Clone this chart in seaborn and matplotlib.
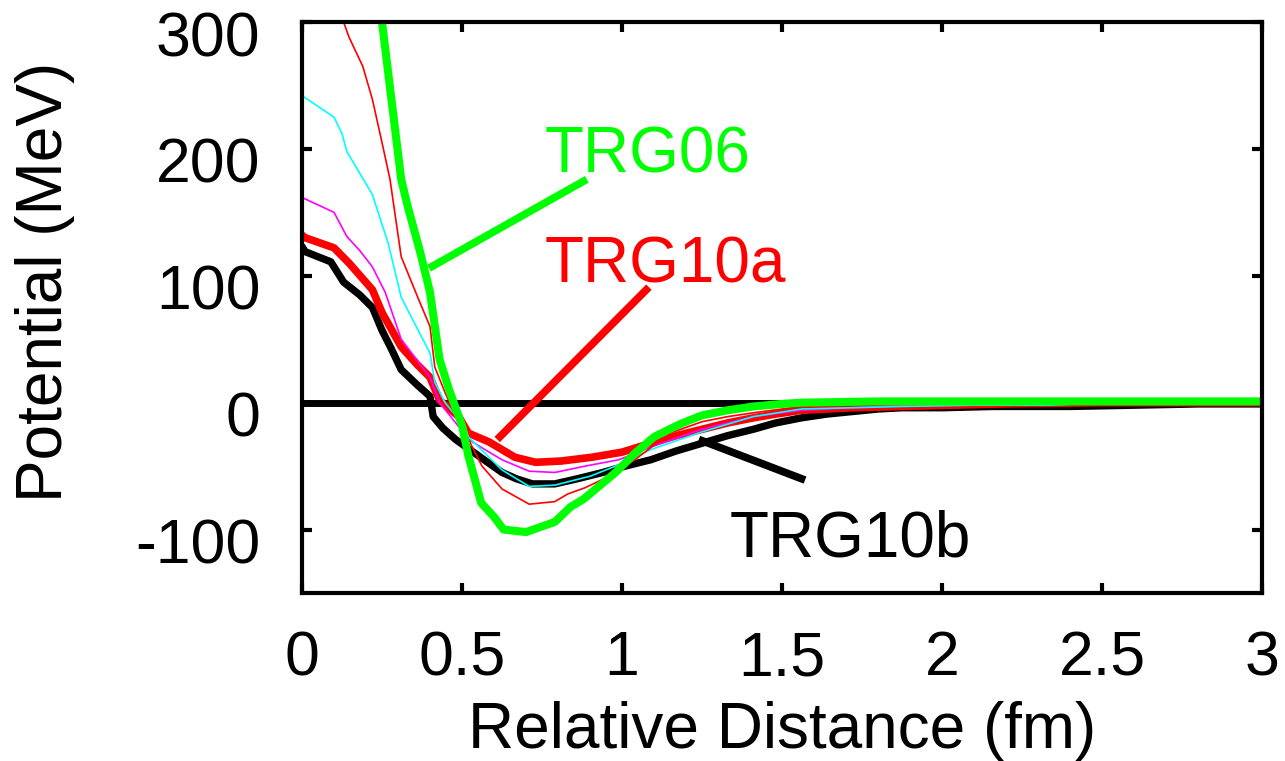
import matplotlib
matplotlib.use("Agg")
import matplotlib.pyplot as plt
import matplotlib.transforms as mtransforms
import seaborn as sns
import pandas as pd

# ---- data ----
trg10b_x = [0.0, 0.01, 0.09, 0.13, 0.18, 0.22, 0.25, 0.28, 0.31, 0.36, 0.40, 0.41, 0.44, 0.48, 0.53,
            0.58, 0.625, 0.67, 0.72, 0.79, 0.86, 0.94, 1.01, 1.09, 1.17, 1.25, 1.33, 1.41, 1.48, 1.56,
            1.64, 1.72, 1.80, 1.875, 2.0, 2.16, 2.4, 2.6, 2.8, 3.0]
trg10b_y = [123, 119, 111, 95, 85, 75, 57, 42, 26, 14, 5, -11, -20, -29, -38,
            -47, -55, -60, -64, -64, -60, -55, -50, -45, -38, -32, -26, -21, -16, -12,
            -9, -7, -5, -4, -4, -3, -3, -2, -1, -1]

trg10a_x = [0.0, 0.01, 0.10, 0.147, 0.22, 0.25, 0.31, 0.36, 0.40, 0.43, 0.49, 0.52, 0.585, 0.625,
            0.665, 0.73, 0.81, 0.906, 1.0, 1.09, 1.17, 1.25, 1.33, 1.41, 1.48, 1.56, 1.72, 1.875,
            2.03, 2.19, 2.5, 3.0]
trg10a_y = [132, 130, 122, 110, 89, 71, 44, 30, 20, 2, -11, -24, -31, -37,
            -43, -47, -46, -43, -39, -32, -26, -21, -16, -12, -9, -6, -4, -3,
            -2, -1, 0, 0]

magenta_x = [0.0, 0.006, 0.10, 0.14, 0.18, 0.22, 0.26, 0.31, 0.40, 0.43, 0.49, 0.52, 0.585, 0.625,
             0.71, 0.79, 0.885, 0.99, 1.09, 1.25, 1.41, 1.56, 1.72, 1.875, 2.2, 2.5, 3.0]
magenta_y = [162, 161, 150, 131, 120, 107, 87, 50, 20, 0, -19, -29, -39, -45,
             -54, -55, -50, -45, -35, -21, -11, -6, -4, -2, -1, -1, 0]

cyan_x = [0.0, 0.006, 0.10, 0.125, 0.14, 0.22, 0.27, 0.31, 0.40, 0.415, 0.447, 0.51, 0.52, 0.625,
          0.71, 0.79, 0.90, 0.99, 1.09, 1.25, 1.41, 1.56, 1.72, 1.875, 2.1, 2.34, 2.5, 3.0]
cyan_y = [242, 241, 225, 212, 198, 164, 125, 83, 39, 16, 0, -19, -27, -53,
          -66, -65, -58, -49, -37, -23, -11, -5, -4, -3, -2, -2, 0, 0]

thinred_x = [0.12, 0.13, 0.147, 0.19, 0.22, 0.25, 0.275, 0.31, 0.365, 0.40, 0.415, 0.447, 0.47, 0.49,
             0.5625, 0.625, 0.71, 0.79, 0.83, 0.885, 0.96, 1.04, 1.15, 1.25, 1.33, 1.41, 1.56, 1.72,
             1.875, 2.2, 2.6, 3.0]
thinred_y = [310, 300, 288, 265, 239, 205, 176, 115, 81, 60, 28, 8, -5, -14,
             -50, -68, -80, -78, -72, -67, -58, -45, -24, -15, -11, -8, -3, -2,
             -1, -1, 0, 0]

trg06_x = [0.24, 0.25, 0.31, 0.33, 0.37, 0.40, 0.43, 0.46, 0.49, 0.50, 0.52, 0.56, 0.60, 0.63,
           0.70, 0.79, 0.84, 0.88, 0.98, 1.04, 1.10, 1.18, 1.25, 1.33, 1.41, 1.50, 1.56, 1.8,
           2.2, 3.0]
trg06_y = [320, 300, 176, 155, 118, 87, 34, 10, -11, -18, -42, -79, -90, -100,
           -102, -94, -82, -76, -55, -40, -27, -17, -10, -6, -3, -1, 0, 1,
           1, 1]

zero_x = [0.0, 3.0]
zero_y = [0, 0]

x_ticks = [0, 0.5, 1, 1.5, 2, 2.5, 3]
x_tick_labels = ["0", "0.5", "1", "1.5", "2", "2.5", "3"]
y_ticks = [-100, 0, 100, 200, 300]
y_tick_labels = ["-100", "0", "100", "200", "300"]

labels = ["TRG06", "TRG10a", "TRG10b"]
label_pos = [(0.759, 181), (0.759, 94.5), (1.3375, -121)]
pointer_lines = [((0.397, 0.89), (106, 176)),
                 ((0.61, 1.084), (-29, 91)),
                 ((1.24, 1.572), (-29, -61))]
label_colors = ["#00ff00", "#ff0000", "#000000"]

# ---- style ----
sns.set_style("ticks")
plt.rcParams["font.family"] = ["Liberation Sans", "DejaVu Sans"]
plt.rcParams["axes.unicode_minus"] = False
plt.rcParams["axes.labelcolor"] = "black"
plt.rcParams["text.color"] = "black"

fig = plt.figure(figsize=(12.85, 7.61), dpi=100)
ax = fig.add_axes([302 / 1285, 1 - 593 / 761, 960 / 1285, 571 / 761])

def draw(xs, ys, color, lw):
    df = pd.DataFrame({"x": xs, "y": ys})
    sns.lineplot(data=df, x="x", y="y", ax=ax, color=color, linewidth=lw,
                 sort=False, estimator=None)

draw(zero_x, zero_y, "#000000", 5)
draw(trg10b_x, trg10b_y, "#000000", 5.3)
draw(trg10a_x, trg10a_y, "#ff0000", 5.5)
draw(magenta_x, magenta_y, "#ff00ff", 1.2)
draw(cyan_x, cyan_y, "#00ffff", 1.2)
draw(thinred_x, thinred_y, "#ff0000", 1.2)
draw(trg06_x, trg06_y, "#00ff00", 5.8)

for (lx, ly), c in zip(pointer_lines, label_colors):
    ax.plot(lx, ly, color=c, linewidth=5.5, solid_capstyle="butt")
for t, (tx, ty), c in zip(labels, label_pos, label_colors):
    ax.text(tx, ty, t, color=c, fontsize=46, ha="left", va="baseline")

ax.set_xlim(0, 3)
ax.set_ylim(-150, 300)
ax.set_xticks(x_ticks)
ax.set_xticklabels(x_tick_labels)
ax.set_yticks(y_ticks)
ax.set_yticklabels(y_tick_labels)
ax.tick_params(direction="in", length=7, width=3, top=True, right=True,
               labelsize=45, colors="black")
ax.tick_params(axis="x", pad=26)
ax.tick_params(axis="y", pad=30)
shift = mtransforms.ScaledTranslation(0, -8 / 72, fig.dpi_scale_trans)
for lab in ax.get_yticklabels():
    lab.set_transform(lab.get_transform() + shift)
for s in ax.spines.values():
    s.set_linewidth(3)
    s.set_color("black")
    s.set_visible(True)

ax.set_xlabel("Relative Distance (fm)", fontsize=46, color="black")
ax.set_ylabel("Potential (MeV)", fontsize=46, color="black")
ax.xaxis.set_label_coords(0.5, -0.19)
ax.yaxis.set_label_coords(-0.236, 0.545)

fig.savefig("out.png", dpi=100)
